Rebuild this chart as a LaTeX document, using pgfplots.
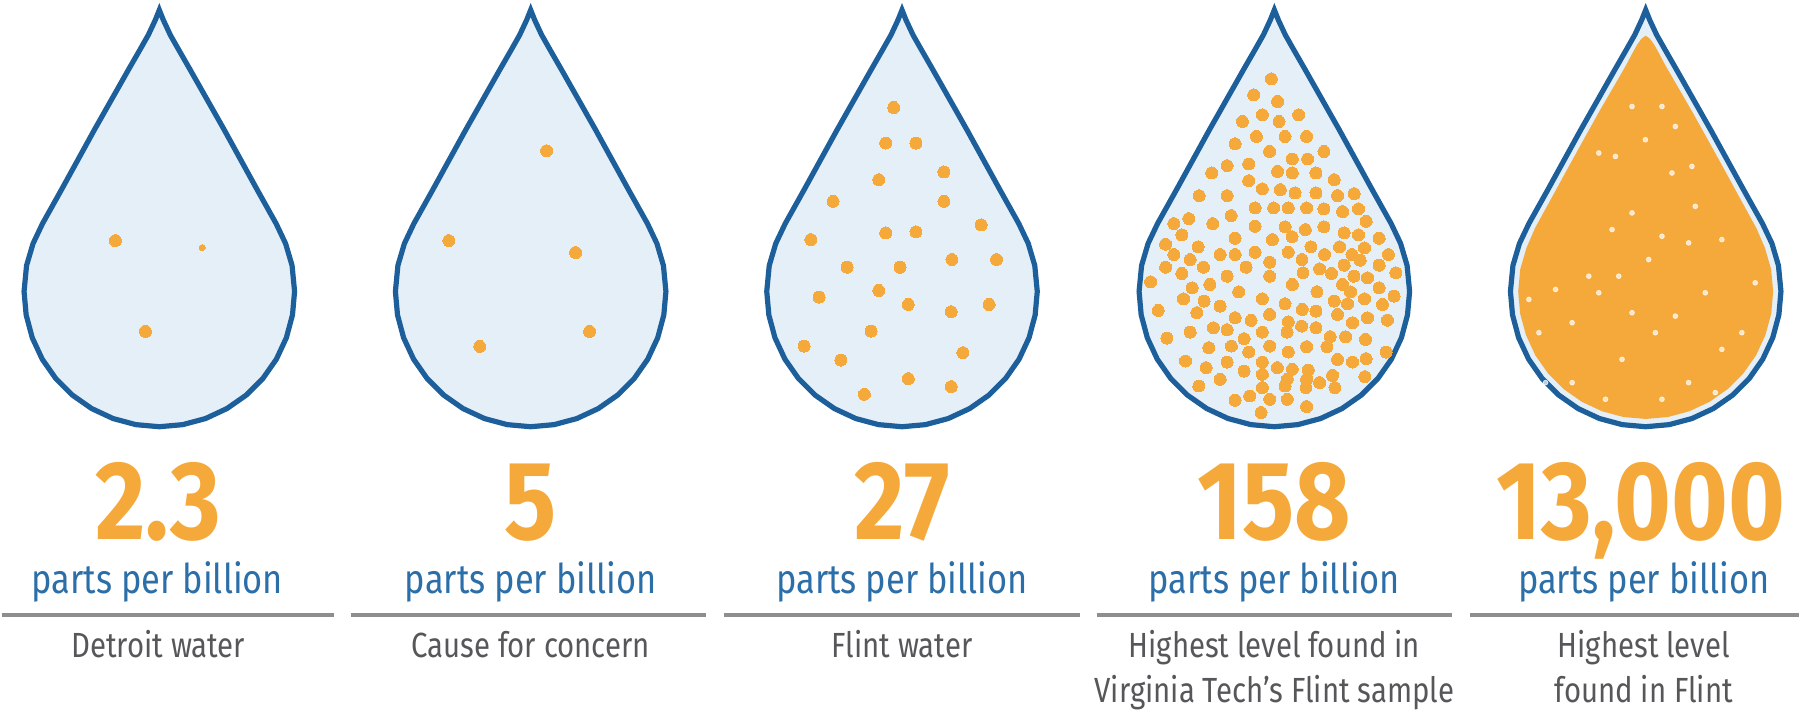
\documentclass[border=0pt]{standalone}
\usepackage{pgfplots}
\pgfplotsset{compat=1.18}
\usepackage{pgfplotstable}
\usepackage{fontspec}
\setmainfont{Fira Sans}
\newfontfamily\numfont[FakeStretch=0.87]{Fira Sans}
\newfontfamily\txtfont[FakeStretch=0.84]{Fira Sans}
\definecolor{dropblue}{HTML}{1C5F9B}
\definecolor{dropfill}{HTML}{E4EFF8}
\definecolor{leadorange}{HTML}{F5A93A}
\definecolor{textblue}{HTML}{2B6EA8}
\definecolor{descgray}{HTML}{555759}
\definecolor{rulegray}{HTML}{8E8E8E}

% drop outline, relative to drop centre (x) and pixel row from top (y)
\pgfplotstableread{
x y
0 10
4 20
11 35
19.5 50
31 70
48 100
65 130
81.5 160
98 190
117 224
126.5 244
133 266
135.5 292
133.4 315.5
127.3 338.3
117.3 359.8
103.8 379.1
87.1 395.8
67.75 409.3
46.3 419.3
23.5 425.4
0 427.5
-23.5 425.4
-46.3 419.3
-67.75 409.3
-87.1 395.8
-103.8 379.1
-117.3 359.8
-127.3 338.3
-133.4 315.5
-135.5 292
-133 266
-126.5 244
-117 224
-98 190
-81.5 160
-65 130
-48 100
-31 70
-19.5 50
-11 35
-4 20
0 10
}\dropshape

% outline of the lead mass filling the last drop
\pgfplotstableread{
x y
0 37
3.5 39.5
7.5 45
12 53
18.7 65.7
29.5 84.4
45.8 112.5
61.4 140.5
76.9 168.6
92.2 196.6
110 229
118.5 248.7
124.7 270
126.7 292
124.8 314
119 335.3
109.7 355.4
97.1 373.4
81.4 389.1
63.4 401.7
43.3 411.1
22 416.8
0 418.7
-22 416.8
-43.3 411.1
-63.4 401.7
-81.4 389.1
-97.1 373.4
-109.7 355.4
-119 335.3
-124.8 314
-126.7 292
-124.7 270
-118.5 248.7
-110 229
-92.2 196.6
-76.9 168.6
-61.4 140.5
-45.8 112.5
-29.5 84.4
-18.7 65.7
-12 53
-7.5 45
-3.5 39.5
0 37
}\leadshape

% gaps showing through the packed particles of the last drop
\pgfplotstableread{
x y
16.3 106.7
-13.7 106.7
46.3 166.7
26.3 173.3
-30.3 156.7
-47 153.3
-13.7 213.3
-33.7 230
16.3 236.7
43 243.3
-57 276.7
-27 276.7
3 260
-90.3 290
-47 293.3
29.7 316.7
59.7 293.3
-73.7 323.3
9.7 333.3
76.3 350
-107 333.3
-23.7 360
43 383.3
96.3 333.3
-73.7 383.3
-13.7 313.3
49.7 206.7
76.3 240
-100.3 383.3
-0.3 140
29.7 126.7
109.7 283.3
-117 300
-40.3 400
16.3 400
69.7 393.3
}\gapsE

% lead particles: 2.3 ppb
\pgfplotstableread{
x y
-44 241
-14 332
}\dotsA
\pgfplotstableread{
x y
43 248
}\dotsAsmall
% 5 ppb
\pgfplotstableread{
x y
16 151
-82 241
45 253
-51 347
59 332
}\dotsB
% 27 ppb
\pgfplotstableread{
x y
-8.3 107.7
-16.3 143.3
14 143.3
42 172.3
-23.3 180
-69 201.7
42 201.7
79.3 225.3
-16.3 233.3
14 232.3
-91.3 240
-55 267.7
-2 267.7
50 260
94.7 260
-23.3 291
-83 297.7
6.3 305
49.3 312.3
87.3 305
-31 331.7
-98 346.7
-61.3 360.7
61 353.3
6.3 379.3
49.3 387.3
-37.7 395
}\dotsC
% 158 ppb
\pgfplotstableread{
x y
-3.0 79.0
-20.7 95.0
3.3 101.7
-12 115
24.3 115
-32 121.7
4.7 121.7
-18 136.7
10.7 136.7
32.3 136.7
-39.3 144
-4.7 151.7
49.7 151.7
18 159.3
33.3 159.3
-25.7 164.3
-47.3 166
-62.7 173.3
3.3 171.7
18 173.3
41.7 173.3
-25.7 181
60 180
-12 189.3
6 190
20.7 193.3
-75.3 196
-47.3 196
41.7 193.3
63.3 196
80 194
-19.3 208.3
-0.7 208.3
14 208.3
32.3 208.3
49.7 209.3
68.3 212
84.3 209.3
-43.3 216
-100.7 224
-85.7 219
-61.7 224
-19.3 226.7
10.7 227.3
31 230
49.7 227.3
92 221.7
-92.7 235.3
-39.3 238.7
-2 240
17.7 237.3
70 233.3
84.3 235.3
105 238.7
-109 244.7
-76.3 247.3
36.7 247.3
65.3 247.3
90.3 248.3
-100.7 255
-54.3 255
-39.3 255
-19.3 252.7
14 252.7
50.3 255
77.7 255
114.3 255
-84.3 260
-4.7 262.7
27.7 260
86 260.7
-109 267.7
-71 267.7
-28.3 267.7
70 265.7
105 265.7
-92.7 274
28.7 273.3
45.3 269.3
57.3 274
121.7 273.3
-47.3 276.7
-4.7 276.7
79.7 276.7
93.3 278.3
-124 282.3
-64.7 285
18 285
68.3 285
-82.3 288.3
-35.7 292.3
42.7 292.3
105 288.3
76.3 292.3
-91 299.3
-70.3 301.7
-12 299.3
90.3 299.3
120 296.7
-54.3 306.7
10.7 304.3
60 301.7
73.3 304.3
108.3 305
-116.3 311
-77.7 313.3
-39.3 318.3
-4.7 315
28 310
41.7 311.7
-23.3 321
14 322.3
63.3 315
93.3 318.3
78.3 323.3
113.3 320.7
-61 328.3
-47.3 330.3
27.3 326.7
41.7 328.3
-84.3 332.7
-12 332.7
12.7 332.7
56 337.3
71.3 337.3
-107.7 338.7
-30.3 339.3
91.3 340
-65.7 348.3
-43 346.7
-4.7 346.7
32.3 347.3
52.7 347.3
-25.7 352.7
14 352.7
112 352.7
-89 361.7
-47.3 362.7
-12 362.7
63.3 360
78.3 362.7
92 359.3
-68.3 368.3
3 368.3
18 370
34 370.7
-30.3 371.7
-12 375
58.3 376
90.7 377.3
-54.3 380
13 380
32.3 380
-75.7 386.7
45.3 383.3
-12 388.3
10.7 386.7
31.7 388.3
60.7 388.3
-24.7 396.7
-4.7 400
-39.3 401
13 400
32.3 407.3
-13.3 413.3
}\dotsD

\begin{document}
\begin{tikzpicture}
\begin{axis}[
  scale only axis, width=900.5bp, height=356.5bp,
  xmin=0, xmax=1801, ymin=0, ymax=713,
  axis lines=none, ticks=none, clip=false]
\addplot[draw=none, forget plot] coordinates {(0,0) (1801,713)};

% drops
\pgfplotsinvokeforeach{158,530,902,1275,1647}{
  \addplot[draw=dropblue, fill=dropfill, line width=2.6bp, line join=miter, forget plot]
    table[x expr=\thisrow{x}+#1, y expr=713-\thisrow{y}]{\dropshape} -- cycle;
}
% fully contaminated drop
\addplot[draw=leadorange, line width=1bp, fill=leadorange, forget plot]
  table[x expr=\thisrow{x}+1647, y expr=713-\thisrow{y}]{\leadshape} -- cycle;
\addplot[only marks, mark=*, mark size=1.2bp, color=white, opacity=0.7,
  mark options={draw=none, fill=white}, forget plot]
  table[x expr=\thisrow{x}+1647, y expr=713-\thisrow{y}]{\gapsE};

% particles
\pgfplotsset{dotstyle/.style={only marks, mark=*, mark size=3bp, color=leadorange,
  mark options={draw=leadorange, fill=leadorange, line width=0pt}, forget plot}}
\addplot[dotstyle] table[x expr=\thisrow{x}+158, y expr=713-\thisrow{y}]{\dotsA};
\addplot[dotstyle, mark size=1.5bp] table[x expr=\thisrow{x}+158, y expr=713-\thisrow{y}]{\dotsAsmall};
\addplot[dotstyle] table[x expr=\thisrow{x}+530, y expr=713-\thisrow{y}]{\dotsB};
\addplot[dotstyle] table[x expr=\thisrow{x}+902, y expr=713-\thisrow{y}]{\dotsC};
\addplot[dotstyle] table[x expr=\thisrow{x}+1275, y expr=713-\thisrow{y}]{\dotsD};

% rules
\addplot[rulegray, line width=1.6bp, forget plot] coordinates {(0,97) (333,97)};
\addplot[rulegray, line width=1.6bp, forget plot] coordinates {(350,97) (706,97)};
\addplot[rulegray, line width=1.6bp, forget plot] coordinates {(724,97) (1080,97)};
\addplot[rulegray, line width=1.6bp, forget plot] coordinates {(1097,97) (1453,97)};
\addplot[rulegray, line width=1.6bp, forget plot] coordinates {(1471,97) (1801,97)};

\tikzset{bignum/.style={anchor=base, text=leadorange, inner sep=0pt, font=\numfont\bfseries\fontsize{56bp}{60bp}\selectfont},
  ppb/.style={anchor=base, text=textblue, inner sep=0pt, font=\txtfont\fontsize{20.5bp}{24bp}\selectfont},
  desc/.style={anchor=base, text=descgray, inner sep=0pt, font=\txtfont\fontsize{17.5bp}{20bp}\selectfont}}
\node[bignum] at (axis cs:157,173) {2.3};
\node[bignum] at (axis cs:530,173) {5};
\node[bignum] at (axis cs:902,173) {27};
\node[bignum] at (axis cs:1275,173) {158};
\node[bignum] at (axis cs:1642,173) {13,000};

\node[ppb] at (axis cs:156,118) {parts per billion};
\node[ppb] at (axis cs:530,118) {parts per billion};
\node[ppb] at (axis cs:902,118) {parts per billion};
\node[ppb] at (axis cs:1275,118) {parts per billion};
\node[ppb] at (axis cs:1645,118) {parts per billion};

\node[desc] at (axis cs:157,54) {Detroit water};
\node[desc] at (axis cs:530,54) {Cause for concern};
\node[desc] at (axis cs:902,54) {Flint water};
\node[desc] at (axis cs:1275,54) {Highest level found in};
\node[desc] at (axis cs:1275,9) {Virginia Tech’s Flint sample};
\node[desc] at (axis cs:1645,54) {Highest level};
\node[desc] at (axis cs:1645,9) {found in Flint};
\end{axis}
\end{tikzpicture}
\end{document}
